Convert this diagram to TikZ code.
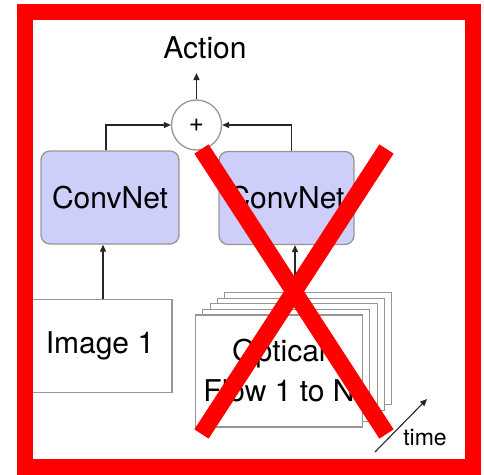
\documentclass[tikz,border=0pt]{standalone}
\usepackage{fontspec}
\setmainfont{TeX Gyre Heros}
\usepackage{tikz}
\usetikzlibrary{arrows.meta,positioning,calc}
\definecolor{netfill}{RGB}{205,207,250}
\definecolor{boxgray}{RGB}{150,150,150}
\definecolor{crossred}{RGB}{255,0,0}
\tikzset{
  bigtext/.style={font=\fontsize{30}{40}\selectfont},
  netbox/.style={
    draw=boxgray,fill=netfill,rounded corners=9pt,line width=1.3pt,
    minimum width=138pt,minimum height=93pt,inner sep=0pt,bigtext
  },
  inputbox/.style={
    draw=boxgray,fill=white,line width=1.2pt,align=center,
    minimum height=93pt,inner sep=0pt,bigtext
  },
  sumnode/.style={
    circle,draw=boxgray,fill=white,line width=1.3pt,minimum size=50pt,
    inner sep=0pt,font=\fontsize{26}{26}\selectfont
  },
  sigarrow/.style={-{Triangle[length=7pt,width=6pt]},line width=1.1pt,draw=black!85},
  crossline/.style={draw=crossred,line width=17pt},
  redframe/.style={draw=crossred,line width=16pt}
}
\begin{document}
\begin{tikzpicture}[x=1pt,y=-1pt]
  \useasboundingbox (0,0) rectangle (484,474);
  % outputs
  \node[bigtext] (action) at (205,48) {Action};
  \node[sumnode] (sum) at (196.5,125) {+};
  \coordinate (actin) at (196.5,73);
  % two streams
  \node[netbox] (netL) at (110,197.5) {ConvNet};
  \node[netbox,minimum width=135pt] (netR) at (286.5,198) {ConvNet};
  \node[inputbox,minimum width=144pt] (img) at (100,346) {Image 1};
  \foreach \k in {4,...,1}
    \node[inputbox,minimum width=167pt,minimum height=112pt,line width=1.1pt]
      (flow\k) at ($(279,371)+(7.3*\k,-5.6*\k)$) {};
  \node[inputbox,minimum width=167pt,minimum height=112pt,line width=1.1pt]
    (flow) at (279,371) {Optical\\Flow 1 to N};
  % connectors
  \draw[sigarrow] (sum.north) -- (actin);
  \draw[sigarrow] ([xshift=-4pt]netL.north) |- (sum.west);
  \draw[sigarrow] ([xshift=5pt]netR.north) |- (sum.east);
  \draw[sigarrow] ([xshift=-7pt]netL.south |- img.north) -- ([xshift=-7pt]netL.south);
  \draw[sigarrow] ([xshift=8.5pt]netR.south |- flow4.north) -- ([xshift=8.5pt]netR.south);
  % time axis
  \coordinate (t0) at (375,452);
  \coordinate (t1) at (427,399);
  \draw[sigarrow] (t0) -- (t1);
  \node[font=\fontsize{23}{23}\selectfont] (timelbl) at (425,438) {time};
  % red frame and cross
  \draw[redframe] (25.3,12) rectangle (472.5,467.3);
  \coordinate (xa) at (201.5,149);
  \coordinate (xb) at (386.5,434);
  \coordinate (xc) at (386.5,149);
  \coordinate (xd) at (201.5,434);
  \draw[crossline] (xa) -- (xb);
  \draw[crossline] (xc) -- (xd);
\end{tikzpicture}
\end{document}
